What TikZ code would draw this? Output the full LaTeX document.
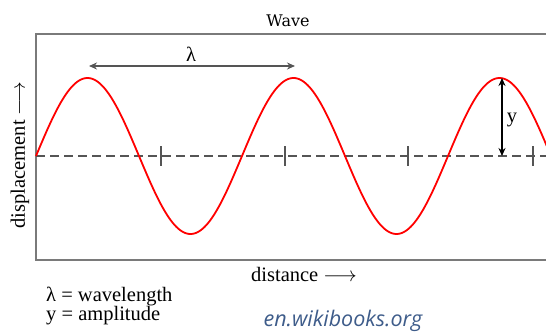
\documentclass[tikz,border=0pt]{standalone}
\usepackage{fontspec}
\setmainfont{Liberation Serif}
\newfontfamily\titlefont{DejaVu Serif}
\newfontfamily\wikifont{Open Sans}
\usetikzlibrary{arrows.meta}
\definecolor{boxgray}{HTML}{7A7A7A}
\definecolor{dashgray}{HTML}{555555}
\definecolor{wavered}{HTML}{FF0000}
\definecolor{wikiblue}{HTML}{3E5C8A}
\tikzset{
  frame/.style={draw=boxgray, line width=1.8pt},
  axisline/.style={draw=dashgray, line width=1.3pt, dash pattern=on 9pt off 5pt},
  tick/.style={draw=dashgray, line width=1.3pt},
  wave/.style={draw=wavered, line width=1.8pt},
  dimarrow/.style={draw=dashgray, line width=1.3pt, {Stealth[length=8pt,width=7pt]}-{Stealth[length=8pt,width=7pt]}},
  serif/.style={font=\fontsize{20.5}{23}\selectfont, inner sep=0pt},
}
\begin{document}
\begin{tikzpicture}[x=1pt,y=-1pt]
\useasboundingbox (0,0) rectangle (546,332);
\begin{scope}
\clip (0,0) rectangle (546,332);
\draw[frame] (36,34) rectangle (600,260);
\draw[axisline] (36,156) -- (560,156);
\foreach \t in {161,285,408,533} \draw[tick] (\t,146) -- (\t,166);
\draw[wave] plot[domain=36:560, samples=300, smooth] (\x, {156-78*sin((\x-36)*1.747573)});
\end{scope}
\node[font=\titlefont\fontsize{16}{18}\selectfont, inner sep=0pt] (title) at (288,21) {Wave};
\coordinate (lamL) at (89,66);
\coordinate (lamR) at (295,66);
\draw[dimarrow] (lamL) -- (lamR);
\node[serif] (lam) at (191,54) {λ};
\coordinate (ybase) at (502,156);
\coordinate (ytop) at (502,78);
\draw[dimarrow, draw=black] (ybase) -- (ytop);
\node[serif] (ylab) at (512,120) {y};
\node[serif, rotate=90] (disp) at (20,155) {displacement $\longrightarrow$};
\node[serif] (dist) at (304,274) {distance $\longrightarrow$};
\node[serif, anchor=west] (leg1) at (46,296) {λ = wavelength};
\node[serif, anchor=west] (leg2) at (46,316) {y = amplitude};
\node[font=\wikifont\itshape\fontsize{21.5}{23}\selectfont, text=wikiblue, inner sep=0pt] (wiki) at (343,321) {en.wikibooks.org};
\end{tikzpicture}
\end{document}
